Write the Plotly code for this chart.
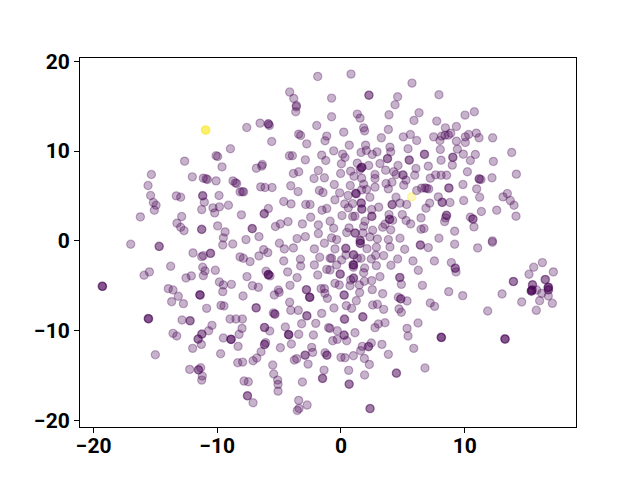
import plotly.graph_objects as go

upper_left = [(-1.88,18.3),(-4.15,16.56),(-3.82,15.85),(-3.61,15.07),(-3.61,14.92),(-3.66,14.37),(-6.54,13.1),(-5.87,13.03),(-5.87,13.0),(-5.79,12.84),(-7.62,12.62),(-1.96,12.84),(-3.42,11.88),(-3.26,11.73),(-5.6,11.06),(-2.77,10.8),(-1.15,11.66),(-1.29,11.14),(-8.94,10.25),(-10.1,9.47),(-9.97,9.39),(-12.64,8.87),(-9.62,8.24),(-15.33,7.39),(-4.17,9.47),(-3.93,9.47),(-2.88,9.02),(-1.56,9.54),(-1.23,8.95),(-6.84,8.09),(-6.41,8.32),(-6.36,8.5),(-3.85,7.5),(-3.42,7.69),(-1.83,7.83),(-2.18,6.94),(-1.34,7.02),(-12.02,7.13),(-11.13,6.98),(-10.91,6.91),(-10.8,6.83),(-10.1,6.68),(-8.73,6.68),(-8.54,6.46),(-8.43,6.39),(-15.6,6.16),(-8.16,5.46),(-7.97,5.49),(-7.87,5.46),(-6.49,6.01),(-6.14,5.94),(-5.57,5.94),(-4.06,6.13),(-3.47,5.49),(-1.75,5.61),(-1.45,5.38),(-15.39,5.05),(-13.31,5.01),(-12.96,4.86),(-11.18,5.05),(-11.18,5.0),(-9.86,5.05),(-11.05,4.31),(-15.17,4.27),(-14.95,3.97),(-15.09,3.42),(-11.26,3.49),(-10.35,3.68),(-10.21,3.12),(-9.83,3.79),(-9.1,3.97),(-4.63,4.38),(-4.04,4.12),(-2.85,4.05),(-2.5,4.05),(-1.53,3.42),(-1.15,3.6),(-5.87,3.6),(-6.19,3.05),(-6.22,3.0),(-8.05,2.9),(-16.22,2.67),(-12.88,2.71),(-2.45,2.64),(-13.26,1.97),(-12.96,1.52),(-12.69,1.15),(-11.26,1.3),(-11.26,1.27),(-9.97,1.67),(-5.3,1.6),(-4.9,1.89),(-4.28,2.15),(-3.12,1.89),(-1.83,1.78),(-0.88,2.19),(-7.19,1.38),(-7.16,1.36),(-9.37,1.0),(-9.51,0.34),(-6.63,0.48),(-7.68,0.15),(-3.55,0.26),(-2.88,0.48),(-1.83,0.82)]

upper_right = [(0.81,18.56),(5.74,17.56),(2.26,16.22),(2.26,16.2),(4.58,16.04),(4.37,15.15),(7.92,16.26),(-0.76,15.89),(-0.76,13.81),(1.32,14.11),(1.54,13.66),(3.88,14.03),(6.31,14.26),(5.9,13.4),(7.74,13.33),(10.03,14.0),(10.78,14.37),(0.22,12.1),(1.83,12.58),(1.91,12.25),(3.83,12.4),(3.26,11.47),(5.04,11.58),(5.61,11.84),(6.12,11.17),(7.49,11.58),(8.44,12.58),(9.33,12.73),(8.14,11.66),(8.0,11.17),(8.41,11.77),(8.68,11.77),(8.87,11.99),(9.33,11.1),(10.05,11.58),(10.32,11.84),(10.05,10.95),(10.94,11.99),(11.16,11.47),(12.26,11.47),(0.67,10.65),(-0.59,10.02),(0.13,9.65),(0.32,9.28),(1.99,10.65),(1.62,9.84),(2.05,10.06),(2.53,9.62),(2.91,9.91),(3.96,10.43),(4.02,9.91),(5.42,10.25),(8.03,10.17),(9.41,10.21),(6.74,9.65),(6.76,9.62),(3.77,9.17),(3.75,9.14),(5.5,9.02),(5.53,8.98),(8.09,8.98),(9.03,9.32),(9.06,9.28),(9.89,9.65),(10.86,9.62),(10.46,8.95),(9.0,8.43),(12.32,8.84),(13.8,9.84),(0.03,8.58),(1.32,8.65),(1.67,8.17),(1.7,8.2),(1.64,8.14),(1.54,7.95),(2.24,8.39),(3.15,8.61),(4.61,8.39),(3.61,7.87),(4.26,7.69),(6.06,8.06),(7.06,8.32),(0.78,7.76),(-0.03,7.5),(1.05,7.2),(1.67,6.98),(2.75,7.39),(2.75,6.94),(4.45,7.39),(4.99,7.35),(5.03,7.33),(5.26,6.76),(5.96,7.31),(7.22,6.98),(7.65,7.35),(8.09,7.31),(8.54,7.31),(10.22,7.69),(11.16,6.91),(11.19,6.88),(11.32,6.83),(12.21,7.02),(14.18,7.43),(-0.54,6.27),(0.75,6.16),(1.83,6.31),(2.75,5.98),(3.64,6.39),(4.12,6.53),(3.83,5.79),(5.07,6.2),(6.12,5.61),(6.52,5.87),(6.79,5.9),(6.93,5.85),(7.09,5.79),(8.71,5.9),(8.74,5.87),(9.86,6.27),(10.97,5.79),(11.21,4.86),(-0.11,5.35),(1.21,5.27),(1.18,5.3),(1.24,5.24),(1.67,5.68),(2.07,5.72),(2.34,4.86),(4.45,4.86),(-0.49,4.57),(0.57,5.05),(5.31,4.05),(4.77,4.2),(4.12,4.05),(4.15,4.02),(3.05,3.75),(7.87,4.9),(8.17,4.31),(8.2,4.27),(8.81,4.27),(9.92,4.49),(7.17,4.2),(6.87,3.64),(13.1,4.9),(13.45,5.27),(13.69,4.49),(13.99,3.97),(12.59,3.42),(11.35,3.27),(14.15,2.75),(0.3,4.12),(0.94,4.15),(1.62,4.23),(1.65,4.2),(0.59,3.68),(1.67,3.56),(1.7,3.53),(2.48,3.49),(0.08,2.82),(0.94,2.71),(1.13,2.75),(2.48,2.75),(2.51,2.72),(3.88,2.93),(4.96,2.93),(3.91,2.41),(3.94,2.38),(4.18,2.3),(5.26,2.27),(5.63,1.89),(6.47,2.56),(8.52,2.86),(8.55,2.83),(8.46,2.56),(8.38,2.15),(10.46,2.64),(10.65,2.45),(10.68,2.42),(10.75,1.56),(9.19,1.08),(6.47,1.3),(6.71,1.38),(7.92,0.3),(12.24,0.0),(-0.59,1.41),(0.65,1.45),(0.46,0.93),(1.13,0.89),(1.16,0.86),(1.83,1.63),(1.94,2.19),(1.78,0.89),(2.56,1.19),(2.34,0.45),(2.94,0.22),(3.37,1.52),(3.56,1.86),(4.02,1.23),(3.83,0.15),(4.77,0.3),(1.54,0.04),(1.57,0.02),(-0.35,0.15),(-0.76,0.34)]

lower_right = [(11.05,-0.78),(12.24,-0.15),(9.19,-0.37),(6.41,-0.45),(6.43,-0.47),(7.06,-0.74),(5.15,-0.93),(3.96,-0.67),(2.86,-0.71),(2.1,-0.86),(1.54,-0.26),(1.57,-0.28),(0.38,-0.82),(0.4,-0.85),(-0.49,-0.89),(-0.76,-1.93),(0.05,-2.12),(0.4,-1.56),(1.0,-1.56),(1.03,-1.53),(1.32,-1.93),(1.62,-1.93),(3.45,-1.63),(2.8,-1.6),(2.45,-2.01),(4.58,-2.01),(5.82,-2.23),(7.55,-2.23),(8.92,-2.41),(9.22,-3.05),(9.25,-3.02),(9.3,-3.45),(6.25,-3.27),(4.04,-2.71),(2.86,-2.75),(-0.35,-2.67),(1.0,-2.67),(1.03,-2.7),(0.97,-2.64),(1.0,-2.93),(1.91,-3.01),(1.83,-3.53),(-0.08,-3.68),(-0.05,-3.7),(-0.89,-3.23),(3.15,-3.97),(1.0,-4.16),(1.03,-4.13),(0.78,-4.34),(4.74,-4.08),(4.77,-4.05),(4.88,-4.83),(2.48,-4.42),(1.89,-4.49),(1.48,-4.9),(0.73,-4.98),(-0.49,-4.72),(-0.14,-4.9),(2.53,-5.42),(1.51,-5.75),(3.37,-5.87),(0.24,-6.01),(0.27,-6.03),(4.64,-6.27),(4.82,-6.46),(4.85,-6.43),(5.34,-6.68),(6.58,-4.94),(8.71,-5.64),(9.84,-6.09),(1.24,-6.65),(2.56,-7.13),(2.94,-7.05),(3.45,-7.61),(0.43,-7.2),(0.86,-7.5),(-0.57,-7.46),(4.69,-7.57),(4.88,-7.94),(7.22,-6.91),(7.57,-7.28),(11.86,-7.8),(13.02,-5.9),(13.93,-4.53),(13.95,-4.5),(14.61,-6.79),(15.79,-7.72),(17.09,-6.94),(16.06,-6.65),(16.76,-6.13),(16.23,-5.83),(16.76,-5.16),(16.78,-5.14),(16.73,-5.19),(16.76,-5.46),(16.79,-5.43),(15.39,-5.57),(15.41,-5.6),(15.37,-5.54),(15.44,-5.46),(15.46,-5.44),(15.47,-4.9),(15.5,-4.87),(15.2,-3.71),(15.58,-2.93),(16.28,-2.41),(17.17,-3.45),(16.5,-4.31),(16.53,-4.28),(15.82,-5.46),(0.27,-8.69),(0.3,-8.72),(1.75,-8.43),(1.78,-8.46),(3.56,-9.1),(3.02,-9.24),(2.75,-9.65),(6.23,-9.13),(5.34,-9.73),(5.42,-10.58),(-0.89,-9.73),(-0.3,-9.99),(1.13,-10.21),(0.24,-10.47),(0.27,-10.5),(0.46,-11.1),(-0.3,-10.95),(-0.67,-11.1),(8.11,-10.73),(8.13,-10.75),(8.09,-10.71),(13.26,-10.91),(13.28,-10.93),(13.24,-10.89),(3.31,-11.51),(2.45,-11.36),(1.72,-11.73),(2.21,-11.77),(2.24,-11.74),(1.59,-12.21),(5.88,-11.95),(3.83,-12.62),(1.0,-12.77),(0.32,-12.99),(0.0,-12.95),(1.89,-13.07),(2.29,-13.74),(0.62,-14.4),(1.91,-14.92),(4.47,-14.7),(4.49,-14.72),(6.79,-14.14),(0.65,-15.93),(0.67,-15.95),(2.34,-18.64),(2.36,-18.66)]

lower_left = [(-17.0,-0.37),(-14.71,-0.6),(-14.69,-0.62),(-9.56,-0.45),(-8.75,-0.34),(-4.98,-0.26),(-4.58,-0.89),(-3.85,-0.78),(-2.15,-0.89),(-1.34,-0.26),(-11.96,-1.34),(-11.26,-1.75),(-11.13,-1.63),(-10.56,-1.37),(-10.54,-1.39),(-8.16,-1.78),(-7.89,-1.93),(-7.35,-2.3),(-6.63,-1.67),(-6.25,-0.97),(-5.92,-1.3),(-4.63,-2.23),(-3.28,-2.04),(-3.26,-2.79),(-1.72,-1.82),(-2.15,-2.67),(-0.88,-1.93),(-13.77,-2.82),(-15.49,-3.45),(-15.92,-3.82),(-11.18,-2.93),(-10.99,-3.34),(-11.13,-3.86),(-10.16,-3.27),(-12.1,-3.89),(-12.53,-4.12),(-6.06,-3.38),(-5.87,-3.75),(-5.85,-3.73),(-5.89,-3.77),(-5.74,-3.89),(-4.31,-3.45),(-3.55,-4.08),(-1.88,-3.79),(-1.15,-3.16),(-7.6,-3.97),(-9.83,-4.57),(-9.51,-4.9),(-8.86,-4.83),(-9.56,-5.64),(-7.16,-4.98),(-6.68,-5.16),(-4.12,-4.94),(-13.96,-5.31),(-13.58,-5.46),(-19.29,-5.05),(-19.27,-5.07),(-19.31,-5.03),(-5.06,-5.46),(-5.0,-5.72),(-5.39,-6.01),(-2.8,-5.42),(-2.78,-5.44),(-1.61,-5.31),(-1.34,-5.31),(-1.3,-5.83),(-1.1,-6.39),(-11.4,-6.01),(-11.38,-6.03),(-11.42,-5.99),(-13.15,-6.16),(-13.69,-6.76),(-12.74,-6.98),(-7.92,-6.13),(-2.53,-6.27),(-2.51,-6.29),(-2.55,-6.25),(-4.15,-6.83),(-10.86,-7.5),(-9.7,-7.17),(-9.46,-7.24),(-6.87,-7.43),(-6.85,-7.45),(-5.36,-8.13),(-5.34,-8.15),(-5.47,-8.02),(-4.06,-7.72),(-3.45,-7.72),(-1.56,-8.06),(-2.77,-8.32),(-2.75,-8.34),(-12.85,-8.8),(-12.21,-8.87),(-12.19,-8.89),(-15.57,-8.65),(-15.55,-8.67),(-15.59,-8.63),(-8.97,-8.69),(-8.49,-8.69),(-7.97,-8.69),(-3.18,-9.21),(-2.04,-9.17),(-1.0,-9.65),(-10.43,-9.39),(-10.7,-9.99),(-8.0,-9.73),(-8.24,-10.39),(-6.19,-9.62),(-6.17,-9.64),(-5.76,-10.02),(-4.5,-9.58),(-3.42,-10.39),(-2.23,-10.47),(-4.23,-10.43),(-4.21,-10.45),(-4.25,-10.41),(-13.58,-10.28),(-13.28,-10.58),(-11.26,-10.36),(-11.24,-10.38),(-11.56,-10.91),(-11.54,-10.93),(-11.29,-11.51),(-11.99,-11.95),(-9.51,-10.8),(-8.89,-10.95),(-8.87,-10.97),(-8.91,-10.93),(-8.32,-11.73),(-6.09,-11.32),(-6.19,-11.51),(-6.17,-11.53),(-4.9,-11.88),(-4.01,-11.47),(-6.46,-12.33),(-6.81,-13.03),(-7.11,-13.33),(-9.73,-12.55),(-15.01,-12.66),(-8.35,-13.55),(-7.95,-13.48),(-5.52,-13.81),(-5.44,-14.81),(-3.77,-13.25),(-3.58,-13.1),(-2.91,-12.7),(-2.89,-12.72),(-2.37,-11.84),(-2.29,-12.4),(-1.29,-12.44),(-1.15,-12.7),(-1.13,-12.72),(-2.66,-13.7),(-1.37,-14.37),(-1.5,-15.29),(-1.48,-15.31),(-3.12,-15.7),(-12.23,-14.29),(-11.53,-14.33),(-11.51,-14.35),(-11.34,-14.11),(-11.21,-15.03),(-11.26,-15.48),(-7.84,-15.59),(-7.49,-15.67),(-5.12,-15.48),(-5.09,-15.96),(-5.09,-16.71),(-7.57,-17.22),(-7.55,-17.24),(-7.11,-18.0),(-3.42,-17.74),(-2.74,-18.26),(-3.39,-18.64),(-3.53,-18.86)]

yellow = [(-10.94,12.33),(-10.92,12.31),(-10.96,12.35),(5.71,4.9)]

purple = upper_left + upper_right + lower_right + lower_left

def scatter(points, rgb):
    xs, ys = zip(*points)
    return go.Scatter(
        x=list(xs), y=list(ys), mode="markers", showlegend=False,
        marker=dict(size=8.2, color=f"rgba({rgb},0.3)",
                    line=dict(width=1.2, color=f"rgba({rgb},0.3)")),
    )

fig = go.Figure([scatter(yellow, "253,231,37"), scatter(purple, "68,1,84")])
axis = dict(showgrid=False, zeroline=False, showline=True, mirror=True,
            linecolor="black", linewidth=1, ticks="outside", ticklen=5,
            tickwidth=1, tickcolor="black",
            tickfont=dict(family="Roboto", size=21, color="black", weight="bold"))
fig.update_layout(
    width=632, height=472, paper_bgcolor="white", plot_bgcolor="white",
    margin=dict(l=72, r=64, t=50, b=53), autosize=False,
    xaxis=dict(range=[-21.1, 19.0], tickvals=[-20, -10, 0, 10],
               ticktext=["\u221220", "\u221210", "0", "10"], ticklabelstandoff=-5, **axis),
    yaxis=dict(range=[-20.7, 20.35], tickvals=[-20, -10, 0, 10, 20],
               ticktext=["\u221220", "\u221210", "0", "10", "20"], **axis),
)
fig.write_html("out.html")
